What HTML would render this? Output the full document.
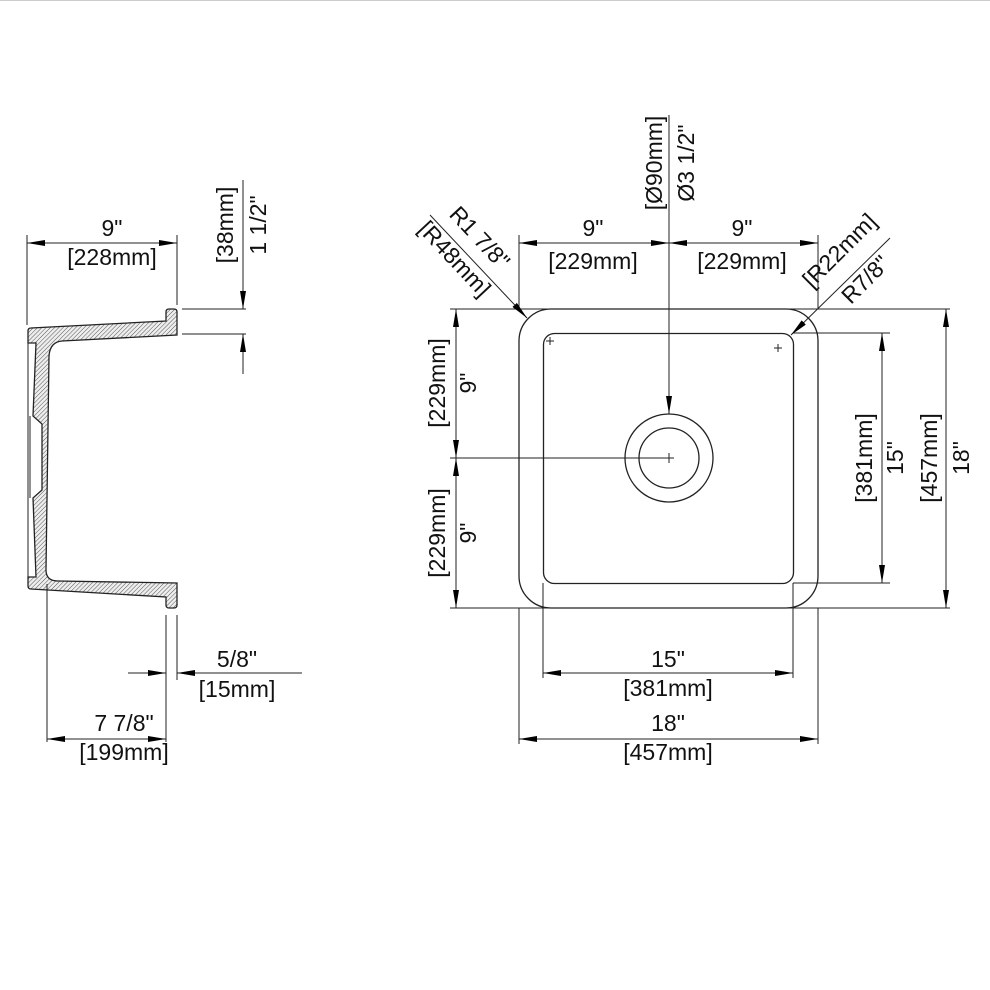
<!DOCTYPE html>
<html><head><meta charset="utf-8"><style>
html,body{margin:0;padding:0;background:#fff}
svg{display:block}
text{font-family:"Liberation Sans",Arial,sans-serif;font-size:23px;fill:#111}
</style></head><body>
<svg width="990" height="990" viewBox="0 0 990 990" xmlns="http://www.w3.org/2000/svg">
<defs>
<pattern id="h" width="3" height="3" patternUnits="userSpaceOnUse" patternTransform="rotate(45)">
<rect width="3" height="3" fill="#eee"/><line x1="0" y1="0" x2="0" y2="3" stroke="#555" stroke-width="1"/>
</pattern>
<marker id="a" viewBox="0 0 18 6" refX="18" refY="3" markerWidth="18" markerHeight="6" markerUnits="userSpaceOnUse" orient="auto-start-reverse">
<path d="M0,0 L18,3 L0,6 z" fill="#000"/></marker>
</defs>
<line x1="0" y1="0.5" x2="990" y2="0.5" stroke="#ccc"/>
<g stroke="#222" stroke-width="1" fill="none">
<path d="M28,331 Q28,328 31,328 L166,321 L166,312 Q166,309 169,309 L174,309 Q177,309 177,312 L177,335 L62,341 Q50,342 49,356 L46,570 Q46,581 58,581 L177,583 L177,605 Q177,608 174,608 L169,608 Q166,608 166,605 L166,597 L31,589 Q28,589 28,586 L28,577 L36,577 L33,498 L42,490 L42,424 L33,416 L36,343 L28,343 Z" fill="url(#h)" stroke-width="1.3"/>
<line x1="28" y1="343" x2="28" y2="577"/>
<line x1="30" y1="416" x2="30" y2="498"/>
<line x1="27" y1="235" x2="27" y2="325"/>
<line x1="177" y1="235" x2="177" y2="305"/>
<line x1="27" y1="243" x2="177" y2="243" marker-start="url(#a)" marker-end="url(#a)"/>
<line x1="182" y1="309" x2="246" y2="309"/>
<line x1="182" y1="334" x2="246" y2="334"/>
<line x1="243" y1="180" x2="243" y2="309" marker-end="url(#a)"/>
<line x1="243" y1="374" x2="243" y2="334" marker-end="url(#a)"/>
<line x1="47" y1="584" x2="47" y2="742"/>
<line x1="166" y1="615" x2="166" y2="742"/>
<line x1="177" y1="615" x2="177" y2="680"/>
<line x1="128" y1="673" x2="166" y2="673" marker-end="url(#a)"/>
<line x1="302" y1="673" x2="177" y2="673" marker-end="url(#a)"/>
<line x1="47" y1="739" x2="166" y2="739" marker-start="url(#a)" marker-end="url(#a)"/>
<rect x="519" y="309" width="299" height="299" rx="32" stroke-width="1.3"/>
<rect x="543.5" y="333.5" width="250" height="250" rx="11" stroke-width="1.3"/>
<circle cx="669" cy="458" r="44" stroke-width="1.3"/>
<circle cx="669" cy="458" r="30" stroke-width="1.3"/>
<path d="M664,458h10M669,453v10M546,341h8M550,337v8M774,348h8M778,344v8"/>
<line x1="450" y1="309" x2="950" y2="309"/>
<line x1="450" y1="608" x2="950" y2="608"/>
<line x1="793" y1="333" x2="890" y2="333"/>
<line x1="793" y1="583" x2="890" y2="583"/>
<line x1="450" y1="458" x2="669" y2="458"/>
<line x1="669" y1="115" x2="669" y2="414" marker-end="url(#a)"/>
<line x1="519" y1="235" x2="519" y2="309"/>
<line x1="818" y1="235" x2="818" y2="309"/>
<line x1="519" y1="243" x2="669" y2="243" marker-start="url(#a)" marker-end="url(#a)"/>
<line x1="669" y1="243" x2="818" y2="243" marker-start="url(#a)" marker-end="url(#a)"/>
<line x1="456" y1="309" x2="456" y2="458" marker-start="url(#a)" marker-end="url(#a)"/>
<line x1="456" y1="458" x2="456" y2="608" marker-start="url(#a)" marker-end="url(#a)"/>
<line x1="882" y1="333" x2="882" y2="583" marker-start="url(#a)" marker-end="url(#a)"/>
<line x1="946" y1="309" x2="946" y2="608" marker-start="url(#a)" marker-end="url(#a)"/>
<line x1="519" y1="608" x2="519" y2="744"/>
<line x1="818" y1="608" x2="818" y2="744"/>
<line x1="543" y1="583" x2="543" y2="678"/>
<line x1="793" y1="583" x2="793" y2="678"/>
<line x1="543" y1="673" x2="793" y2="673" marker-start="url(#a)" marker-end="url(#a)"/>
<line x1="519" y1="739" x2="818" y2="739" marker-start="url(#a)" marker-end="url(#a)"/>
<line x1="430" y1="215" x2="527" y2="318" marker-end="url(#a)"/>
<line x1="890" y1="238" x2="791" y2="335" marker-end="url(#a)"/>
</g>
<g text-anchor="middle">
<text x="112" y="236">9"</text>
<text x="112" y="265">[228mm]</text>
<text x="237" y="667">5/8"</text>
<text x="237" y="697">[15mm]</text>
<text x="124" y="731">7 7/8"</text>
<text x="124" y="760">[199mm]</text>
<text x="593" y="236">9"</text>
<text x="593" y="269">[229mm]</text>
<text x="742" y="236">9"</text>
<text x="742" y="269">[229mm]</text>
<text x="668" y="667">15"</text>
<text x="668" y="696">[381mm]</text>
<text x="668" y="731">18"</text>
<text x="668" y="760">[457mm]</text>
<text transform="translate(233,225) rotate(-90)">[38mm]</text>
<text transform="translate(266,225) rotate(-90)">1 1/2"</text>
<text transform="translate(662,163) rotate(-90)">[Ø90mm]</text>
<text transform="translate(694,163) rotate(-90)">Ø3 1/2"</text>
<text transform="translate(445,383) rotate(-90)">[229mm]</text>
<text transform="translate(476,383) rotate(-90)">9"</text>
<text transform="translate(445,533) rotate(-90)">[229mm]</text>
<text transform="translate(476,533) rotate(-90)">9"</text>
<text transform="translate(872,458) rotate(-90)">[381mm]</text>
<text transform="translate(903,458) rotate(-90)">15"</text>
<text transform="translate(937,458) rotate(-90)">[457mm]</text>
<text transform="translate(969,458) rotate(-90)">18"</text>
<text transform="translate(474,243) rotate(47)">R1 7/8"</text>
<text transform="translate(449,264) rotate(47)">[R48mm]</text>
<text transform="translate(845,256) rotate(-45)">[R22mm]</text>
<text transform="translate(871,285) rotate(-45)">R7/8"</text>
</g>
</svg>
</body></html>
